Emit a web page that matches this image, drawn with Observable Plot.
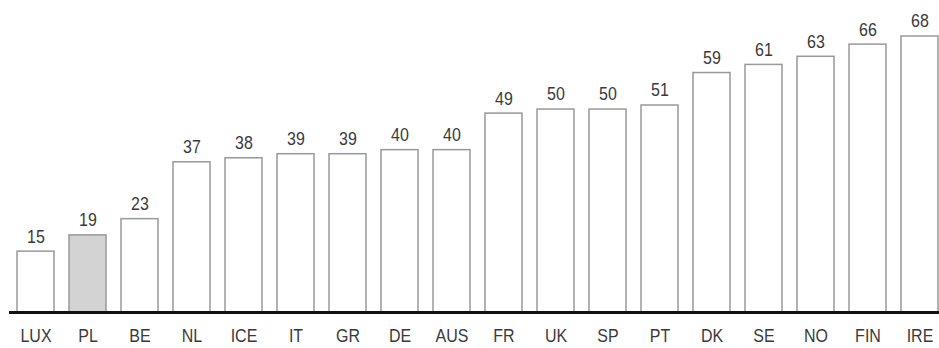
<!DOCTYPE html>
<html>
<head>
<meta charset="utf-8">
<script src="https://cdn.jsdelivr.net/npm/d3@7"></script>
<script src="https://cdn.jsdelivr.net/npm/@observablehq/plot@0.6"></script>
<style>
  html, body { margin: 0; padding: 0; background: #fff; }
  #chart svg { display: block; }
</style>
</head>
<body>
<div id="chart"></div>
<script>
// Countries, in ascending order of value
const countries = ["LUX", "PL", "BE", "NL", "ICE", "IT", "GR", "DE", "AUS", "FR", "UK", "SP", "PT", "DK", "SE", "NO", "FIN", "IRE"];
const values = [15, 19, 23, 37, 38, 39, 39, 40, 40, 49, 50, 50, 51, 59, 61, 63, 66, 68];
// Highlighted country
const highlight = "PL";

const data = countries.map((c, i) => ({country: c, value: values[i]}));

const chart = Plot.plot({
  width: 939,
  height: 348,
  marginTop: 36,
  marginBottom: 36,
  marginLeft: 9,
  marginRight: 0,
  style: {fontFamily: "'Liberation Sans', Arial, sans-serif", fontSize: "16px", color: "#3a3a3a"},
  x: {domain: countries, range: [16, 938], paddingInner: 0.29, paddingOuter: 0, label: null},
  y: {domain: [0, 68], axis: null},
  marks: [
    Plot.barY(data, {
      x: "country",
      y: "value",
      fill: d => d.country === highlight ? "#d3d3d3" : "#fff",
      stroke: "#999",
      strokeWidth: 1.5
    }),
    Plot.text(data, {
      x: "country",
      y: "value",
      text: d => String(d.value),
      dy: -15,
      fill: "#3a3a3a",
      fontSize: 16
    }),
    Plot.ruleY([0], {stroke: "#111", strokeWidth: 3}),
    Plot.axisX({tickSize: 0, tickPadding: 16, fontSize: 16, fill: "#3a3a3a", label: null})
  ]
});

// Slightly taller lettering for all labels
d3.select(chart).selectAll("text").each(function() {
  const t = this.getAttribute("transform") || "";
  this.setAttribute("transform", t + " scale(1,1.15)");
});

document.getElementById("chart").appendChild(chart);
</script>
</body>
</html>
